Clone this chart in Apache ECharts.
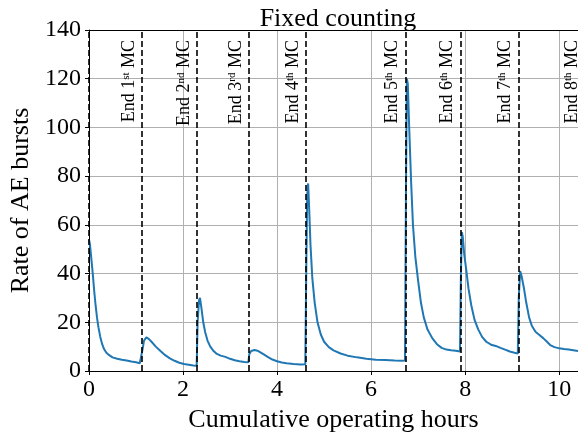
<!DOCTYPE html>
<html>
<head>
<meta charset="utf-8">
<script src="https://cdn.jsdelivr.net/npm/echarts@6/dist/echarts.min.js"></script>
<style>
  html, body { margin: 0; padding: 0; background: #fff; }
  #main { width: 578px; height: 436px; }
</style>
</head>
<body>
<div id="main"></div>
<script>
// hours and AE burst rate, one MC segment after another
const hours = [
  0.00, 0.02, 0.05, 0.08, 0.11, 0.14, 0.17, 0.20, 0.24, 0.28, 0.32, 0.37, 0.43, 0.50, 0.60, 0.70, 0.80, 0.90, 1.00, 1.08, 1.12,
  1.14, 1.17, 1.22, 1.27, 1.33, 1.42, 1.52, 1.62, 1.72, 1.82, 1.92, 2.02, 2.12, 2.22, 2.29,
  2.31, 2.34, 2.36, 2.39, 2.43, 2.47, 2.52, 2.58, 2.65, 2.72, 2.80, 2.90, 3.00, 3.10, 3.20, 3.30, 3.39,
  3.41, 3.45, 3.52, 3.60, 3.70, 3.80, 3.90, 4.00, 4.10, 4.20, 4.35, 4.50, 4.60,
  4.62, 4.64, 4.66, 4.68, 4.71, 4.75, 4.80, 4.86, 4.93, 5.00, 5.10, 5.20, 5.35, 5.50, 5.70, 5.90, 6.10, 6.30, 6.50, 6.65, 6.72,
  6.74, 6.76, 6.78, 6.81, 6.85, 6.89, 6.94, 7.00, 7.06, 7.12, 7.20, 7.30, 7.40, 7.50, 7.60, 7.70, 7.80, 7.89,
  7.91, 7.93, 7.95, 7.98, 8.02, 8.07, 8.13, 8.20, 8.28, 8.36, 8.45, 8.55, 8.65, 8.75, 8.85, 8.95, 9.05, 9.12,
  9.14, 9.17, 9.20, 9.25, 9.30, 9.36, 9.42, 9.50, 9.58, 9.66, 9.74, 9.82, 9.90, 10.00, 10.10, 10.20, 10.30, 10.40
];
const rate = [
  54, 52, 46, 40, 33, 27, 22, 18, 14, 11, 9, 7.5, 6.5, 5.6, 5.0, 4.6, 4.3, 3.9, 3.6, 3.2, 3.0,
  9, 12.5, 13.8, 13.2, 12, 10, 8.2, 6.5, 5.2, 4.2, 3.4, 2.9, 2.6, 2.3, 2.1,
  20, 29, 30, 26, 20, 16, 12.5, 10, 8.2, 7, 6.3, 5.8, 5.0, 4.4, 4.0, 3.7, 3.6,
  7, 8.2, 8.6, 8.2, 7, 5.8, 4.7, 4.0, 3.5, 3.2, 2.9, 2.7, 2.8,
  40, 72, 77, 68, 52, 38, 28, 20, 15, 12, 9.8, 8.5, 7.2, 6.3, 5.6, 5.0, 4.6, 4.5, 4.3, 4.2, 4.3,
  70, 120, 118, 100, 78, 60, 47, 37, 28, 22, 17, 13.5, 11, 9.5, 8.8, 8.5, 8.3, 8.0,
  40, 57, 55, 48, 42, 34, 27, 21, 17, 14, 12, 10.8, 10.3, 9.5, 8.8, 8.0, 7.5, 7.2,
  30, 41, 39, 34, 28, 22, 18.5, 16, 14.8, 13.5, 12, 10.5, 9.8, 9.3, 9.0, 8.8, 8.5, 8.2
];
// end of each measurement campaign (hours); the last one sits past the x range
const mcEnds = [0, 1.13, 2.30, 3.40, 4.62, 6.73, 7.90, 9.13, 10.55];
const mcOrdinals = ['', '1', '2', '3', '4', '5', '6', '7', '8'];
const mcSuffix = ['', 'st', 'nd', 'rd', 'th', 'th', 'th', 'th', 'th'];

const X_MAX = 10.4;
const FONT = 'Liberation Serif';
const chart = echarts.init(document.getElementById('main'));

const labelText = i => '{n|End ' + mcOrdinals[i] + '}{s|' + mcSuffix[i] + '}{n| MC}';
const labelRich = {
  n: { fontFamily: FONT, fontSize: 18, color: '#000' },
  s: { fontFamily: FONT, fontSize: 11, color: '#000', verticalAlign: 'top', lineHeight: 10 }
};

const markData = mcEnds.filter(x => x <= X_MAX).map((x, i) => ({
  xAxis: x,
  label: { show: i > 0, formatter: labelText(i) }
}));

chart.setOption({
  animation: false,
  title: {
    text: 'Fixed counting',
    left: 333,
    textAlign: 'center',
    top: 1,
    textStyle: { fontFamily: FONT, fontSize: 26, fontWeight: 'normal', color: '#000' }
  },
  grid: { left: 89, right: 0, top: 30, bottom: 65, outerBoundsMode: 'none' },
  xAxis: [{
    type: 'value',
    min: 0,
    max: X_MAX,
    interval: 2,
    name: 'Cumulative operating hours',
    nameLocation: 'middle',
    nameGap: 31,
    nameTextStyle: { fontFamily: FONT, fontSize: 26, color: '#000' },
    axisLine: { lineStyle: { color: '#000', width: 1 } },
    axisTick: { show: true, length: 4, lineStyle: { color: '#000' } },
    axisLabel: {
      fontFamily: FONT, fontSize: 24, color: '#000', margin: 7,
      formatter: v => (Number.isInteger(v) ? String(v) : '')
    },
    splitLine: { show: true, lineStyle: { color: '#b0b0b0', width: 1 } }
  }, {
    type: 'value',
    position: 'top',
    min: 0,
    max: X_MAX,
    axisLine: { show: true, lineStyle: { color: '#000', width: 1 } },
    axisTick: { show: false },
    axisLabel: { show: false },
    splitLine: { show: false }
  }],
  yAxis: {
    type: 'value',
    min: 0,
    max: 140,
    interval: 20,
    name: 'Rate of AE bursts',
    nameLocation: 'middle',
    nameGap: 44,
    nameTextStyle: { fontFamily: FONT, fontSize: 26, color: '#000' },
    axisLine: { show: true, lineStyle: { color: '#000', width: 1 } },
    axisTick: { show: true, length: 4, lineStyle: { color: '#000' } },
    axisLabel: { fontFamily: FONT, fontSize: 24, color: '#000', margin: 8 },
    splitLine: { show: true, lineStyle: { color: '#b0b0b0', width: 1 } }
  },
  series: [{
    type: 'line',
    data: hours.map((h, i) => [h, rate[i]]),
    showSymbol: false,
    lineStyle: { color: '#1f77b4', width: 2 },
    markLine: {
      silent: true,
      symbol: ['none', 'none'],
      lineStyle: { color: '#000', type: [6, 3], width: 1.6 },
      label: {
        position: 'insideEndTop',
        distance: [10, 4],
        color: '#000',
        rich: labelRich
      },
      data: markData
    }
  }]
});

// labels whose end line lies past the x range are placed as plain text
const topY = chart.convertToPixel({ yAxisIndex: 0 }, 140);
chart.setOption({
  graphic: mcEnds.map((x, i) => ({ x, i })).filter(d => d.x > X_MAX).map(d => ({
    type: 'text',
    x: chart.convertToPixel({ xAxisIndex: 0 }, d.x) - 4,
    y: topY + 10,
    rotation: Math.PI / 2,
    style: {
      text: labelText(d.i),
      rich: labelRich,
      align: 'right',
      verticalAlign: 'bottom'
    }
  }))
});
</script>
</body>
</html>
